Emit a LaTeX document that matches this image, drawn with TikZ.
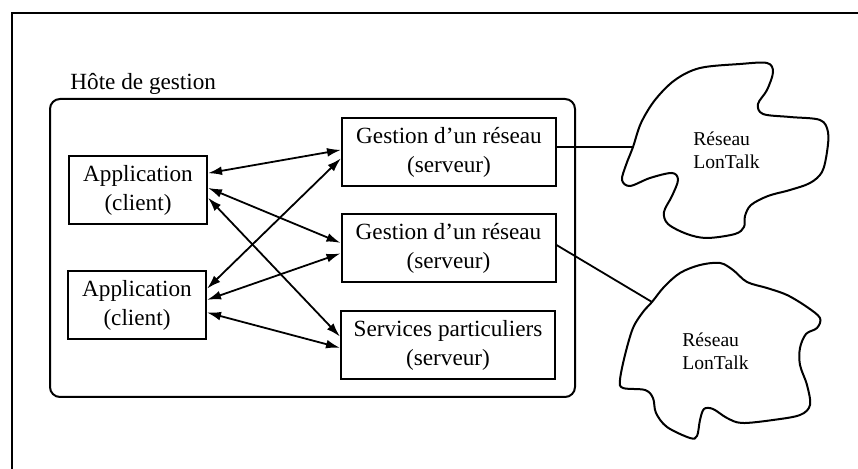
\documentclass[tikz,border=0pt]{standalone}
\usepackage{fontspec}
\setmainfont{Liberation Serif}
\usetikzlibrary{arrows.meta,calc}
\begin{document}
\begin{tikzpicture}[x=0.5pt,y=-0.5pt,
  frameline/.style={line width=1pt},
  appbox/.style={draw,line width=1pt,minimum width=69pt,minimum height=34pt,inner sep=0pt,align=center,font=\fontsize{11.6}{14.5}\selectfont},
  srvbox/.style={draw,line width=1pt,minimum width=107pt,minimum height=34pt,inner sep=0pt,align=center,font=\fontsize{11.6}{14.5}\selectfont},
  biarrow/.style={{Latex[length=7pt,width=4.4pt]}-{Latex[length=7pt,width=4.4pt]},line width=0.9pt},
  cloudline/.style={line width=1pt},
  netlabel/.style={anchor=west,align=left,inner sep=0pt,font=\fontsize{9.8}{11.5}\selectfont},
  link/.style={line width=0.9pt}
]
\useasboundingbox (0,0) rectangle (858,469);
% outer frame (top and left edges visible)
\draw[frameline] (858,13) -- (12,13) -- (12,469);
% host container
\node[anchor=base west,inner sep=0pt,font=\fontsize{11.6}{14}\selectfont] (hostlbl) at (70,90) {Hôte de gestion};
\draw[line width=1pt,rounded corners=5pt] (50,99) rectangle (575,397);
% boxes
\node[appbox] (app1) at (138,190) {Application\\(client)};
\node[appbox] (app2) at (137,305.5) {Application\\(client)};
\node[srvbox] (g1) at (449,152) {Gestion d’un réseau\\(serveur)};
\node[srvbox] (g2) at (448.5,248.5) {Gestion d’un réseau\\(serveur)};
\node[srvbox] (sv) at (448,345) {Services particuliers\\(serveur)};
% arrows
\draw[biarrow] ($(app1.north east)!0.26!(app1.south east)$) -- ($(g1.north west)!0.47!(g1.south west)$);
\draw[biarrow] ($(app1.north east)!0.47!(app1.south east)$) -- ($(g2.north west)!0.42!(g2.south west)$);
\draw[biarrow] ($(app1.north east)!0.61!(app1.south east)$) -- ($(sv.north west)!0.38!(sv.south west)$);
\draw[biarrow] ($(app2.north east)!0.26!(app2.south east)$) -- ($(g1.north west)!0.59!(g1.south west)$);
\draw[biarrow] ($(app2.north east)!0.42!(app2.south east)$) -- ($(g2.north west)!0.57!(g2.south west)$);
\draw[biarrow] ($(app2.north east)!0.6!(app2.south east)$) -- ($(sv.north west)!0.54!(sv.south west)$);
% clouds
\draw[cloudline] plot[smooth cycle,tension=0.55] coordinates {
 (633,147) (641,123) (655,100) (675,80) (700,68) (740,64) (767,63) (773,72) (767,90) (758,104)
 (763,114) (790,117) (820,120) (828,132) (827,152) (822,172) (810,183) (790,190) (768,196)
 (751,205) (745,216) (744,227) (735,234) (707,238) (687,234) (668,224) (664,212) (672,196)
 (678,180) (672,173) (650,178) (630,186) (622,180) (626,165)};
\draw[cloudline] plot[smooth cycle,tension=0.55] coordinates {
 (652,302) (664,287) (680,273) (700,265) (720,263) (733,270) (747,282) (767,288) (787,295)
 (807,307) (820,318) (817,328) (806,334) (800,348) (800,365) (807,385) (810,405) (800,415)
 (773,420) (742,423) (727,418) (713,409) (704,409) (700,420) (697,436) (690,438) (667,427)
 (656,413) (653,398) (645,390) (623,388) (620,380) (625,355) (633,328) (643,312)};
\node[netlabel] (net1) at (693,150) {Réseau\\LonTalk};
\node[netlabel] (net2) at (682,351) {Réseau\\LonTalk};
% links to networks
\coordinate (c1) at (633,147);
\coordinate (c2) at (652,302);
\draw[link] (c1 -| g1.east) -- (c1);
\draw[link] ($(g2.north east)!0.45!(g2.south east)$) -- (c2);
\end{tikzpicture}
\end{document}
